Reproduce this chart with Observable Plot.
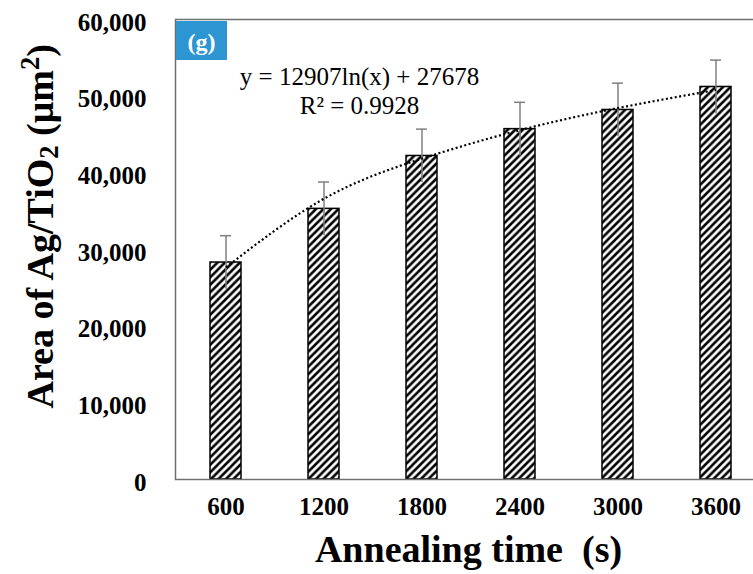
<!DOCTYPE html>
<html><head><meta charset="utf-8">
<script src="https://cdn.jsdelivr.net/npm/d3@7"></script>
<script src="https://cdn.jsdelivr.net/npm/@observablehq/plot@0.6"></script>
<style>
html,body{margin:0;padding:0;background:#fff;overflow:hidden;}
#wrap{position:relative;width:753px;height:574px;overflow:hidden;}
#wrap svg{display:block;max-width:none !important;width:770px !important;height:574px !important;}
#tag{position:absolute;left:176px;top:21px;width:51px;height:39px;box-sizing:border-box;padding-top:3px;background:#2E95D3;color:#fff;font:bold 24px "Liberation Serif",serif;display:flex;align-items:center;justify-content:center;}
</style></head><body><div id="wrap"></div>
<script>
// ---- data ----
const times = ["600", "1200", "1800", "2400", "3000", "3600"];
const areas = [28300, 35300, 42200, 45700, 48200, 51200];
const errors = [3500, 3500, 3500, 3500, 3500, 3500];
const yTicks = [0, 10000, 20000, 30000, 40000, 50000, 60000];
const fitA = 12907;   // y = a ln(x) + b (trendline shown on the chart)
const fitB = 27678;
const fitR2 = "0.9928";
const panelTag = "(g)";
const xTitle = "Annealing time\u00A0 (s)";
const yTitle = "Area of Ag/TiO2 (\u03BCm2)";

const data = times.map((t, i) => ({t, v: areas[i], e: errors[i], fit: fitA * Math.log(i + 1) + fitB}));
const eq1 = `y = ${fitA}ln(x) + ${fitB}`;
const eq2 = `R\u00B2 = ${fitR2}`;
const serif = '"Liberation Serif","Times New Roman",serif';

const chart = Plot.plot({
  width: 770, height: 574,
  marginLeft: 175, marginRight: 5, marginTop: 19, marginBottom: 95,
  style: {fontFamily: serif, background: "#fff", color: "#000"},
  x: {type: "band", domain: times, paddingInner: 0.685, paddingOuter: 0.3425, label: null},
  y: {domain: [0, 60000], label: null},
  marks: [
    Plot.barY(data, {x: "t", y: "v", fill: "url(#hatch)", stroke: "#000", strokeWidth: 1.5}),
    Plot.ruleX(data, {x: "t", y1: d => d.v - d.e, y2: d => d.v + d.e, stroke: "#808080", strokeWidth: 1.5}),
    Plot.tickY(data, {x: "t", y: d => d.v + d.e, stroke: "#808080", strokeWidth: 1.5, inset: 10}),
    Plot.line(data, {x: "t", y: "fit", stroke: "#000", strokeWidth: 2.2, strokeDasharray: "2,2.5", strokeLinecap: "butt", curve: "natural"}),
    Plot.frame({stroke: "#707070", strokeWidth: 1.5}),
    Plot.axisY({ticks: yTicks, tickSize: 0, tickPadding: 29, tickFormat: d3.format(","), fontSize: 25, fontWeight: "bold", dy: 3, label: null}),
    Plot.axisX({tickSize: 0, tickPadding: 18, fontSize: 25, fontWeight: "bold", label: null}),
    Plot.text([eq1], {text: d => d, frameAnchor: "top-left", dx: 184, dy: 57, fontSize: 25, textAnchor: "middle", lineAnchor: "middle"}),
    Plot.text([eq2], {text: d => d, frameAnchor: "top-left", dx: 184, dy: 86.5, fontSize: 25, textAnchor: "middle", lineAnchor: "middle"}),
    Plot.text([xTitle], {text: d => d, frameAnchor: "bottom", dx: -2, dy: 70, fontSize: 38, fontWeight: "bold", textAnchor: "middle", lineAnchor: "middle"}),
    Plot.text([yTitle], {text: d => d, frameAnchor: "left", dx: -135, dy: 159, rotate: -90, fontSize: 38, fontWeight: "bold", textAnchor: "start", lineAnchor: "middle"})
  ]
});

const svg = d3.select(chart);
const defs = svg.insert("defs", ":first-child");
const pat = defs.append("pattern").attr("id", "hatch").attr("patternUnits", "userSpaceOnUse")
  .attr("width", 7.5).attr("height", 7.5);
pat.append("rect").attr("width", 7.5).attr("height", 7.5).attr("fill", "#fff");
pat.append("path").attr("d", "M0,7.5L7.5,0M-2,2L2,-2M5.5,9.5L9.5,5.5").attr("stroke", "#000").attr("stroke-width", 2.6);

// sub/superscripts in the y title
svg.selectAll("text").each(function() {
  const el = d3.select(this);
  if (el.text() === yTitle) {
    el.text(null);
    el.append("tspan").text("Area of Ag/TiO");
    el.append("tspan").attr("font-size", "70%").attr("dy", 5).text("2");
    el.append("tspan").attr("dy", -5).text(" (\u03BCm");
    el.append("tspan").attr("font-size", "70%").attr("dy", -14).text("2");
    el.append("tspan").attr("dy", 14).text(")");
  }
});

const wrap = document.getElementById("wrap");
wrap.appendChild(chart);
const tag = document.createElement("div");
tag.id = "tag";
tag.textContent = panelTag;
wrap.appendChild(tag);
</script>
</body></html>
